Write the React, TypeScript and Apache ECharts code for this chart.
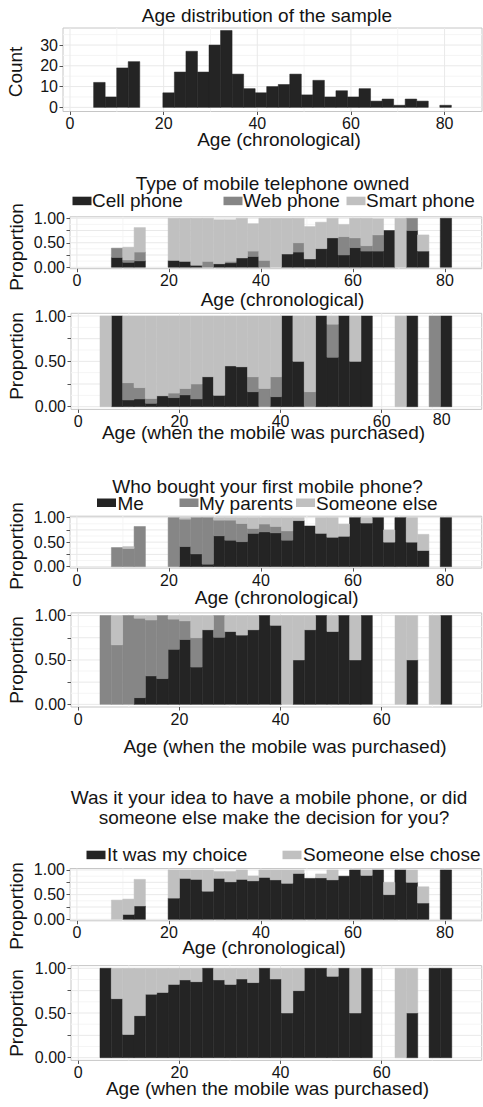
import React, { useEffect, useRef } from 'react';
import * as echarts from 'echarts';

const N: any = null;

// Bin left edges (age, years)
const chronoBinStart = [2.57, 5.04, 7.5, 9.97, 12.43, 14.9, 17.36, 19.83, 22.29, 24.76, 27.22, 29.69, 32.15, 34.62, 37.08, 39.55, 42.01, 44.48, 46.94, 49.41, 51.87, 54.34, 56.8, 59.27, 61.73, 64.2, 66.66, 69.13, 71.59, 74.06, 76.52, 78.99, 81.45];
const chronoBinWidth = 2.465;
const purchaseBinStart = [4.29, 6.53, 8.78, 11.02, 13.27, 15.51, 17.75, 20.0, 22.24, 24.49, 26.73, 28.97, 31.22, 33.46, 35.71, 37.95, 40.19, 42.44, 44.68, 46.93, 49.17, 51.41, 53.66, 55.9, 58.15, 60.39, 62.63, 64.88, 67.12, 69.37, 71.61];
const purchaseBinWidth = 2.244;

// Panel 1: age distribution
const ageCount = [0, 12, 5, 19, 22, 0, 0, 7, 17, 27, 17, 30, 37, 16, 9, 7, 10, 11, 16, 6, 13, 5, 8, 5, 9, 3, 4, 1, 4, 3, 0, 1, 0];

// Panel 2: type owned by chronological age
const typeChronoCell = [N, N, 0.2, 0.1, 0.13, N, N, 0.14, 0.12, 0.04, 0, 0.07, 0.09, 0.19, 0.22, 0, 0, 0.27, 0.31, 0.17, 0.38, 0.6, 0.25, 0.4, 0.33, 0.33, 0.75, 0, 0.75, 0.33, N, 1.0, N];
const typeChronoWeb = [N, N, 0.19, 0.05, 0.18, N, N, 0, 0, 0, 0.12, 0, 0.03, 0, 0.11, 0.14, 0, 0, 0.19, 0, 0, 0, 0.375, 0.2, 0.11, 0.33, 0, 0, 0.25, 0, N, 0, N];
const typeChronoSmart = [N, N, 0, 0.26, 0.5, N, N, 0.86, 0.88, 0.96, 0.88, 0.9, 0.85, 0.81, 0.56, 0.86, 1.0, 0.73, 0.5, 0.66, 0.54, 0.4, 0.25, 0.4, 0.56, 0.33, 0, 1.0, 0, 0.33, N, 0, N];

// Panel 3: type by age at purchase
const typePurchCell = [0, 1.0, 0.074, 0.085, 0.037, 0.12, 0.1, 0.13, 0.085, 0.33, 0.125, 0.45, 0.44, 0.165, 0, 0.11, 1.0, 0.5, 0, 1.0, 0.545, 1.0, 0.5, 1.0, N, N, 0, 1.0, N, 0, 1.0];
const typePurchWeb = [0, 0, 0.19, 0.125, 0.053, 0, 0.05, 0.07, 0.165, 0, 0, 0, 0, 0.165, 0.2, 0.22, 0, 0, 0.165, 0, 0.365, 0, 0, 0, N, N, 0, 0, N, 1.0, 0];
const typePurchSmart = [1.0, 0, 0.736, 0.79, 0.91, 0.88, 0.85, 0.8, 0.75, 0.67, 0.875, 0.55, 0.56, 0.67, 0.8, 0.67, 0, 0.5, 0.835, 0, 0.09, 0, 0.5, 0, N, N, 1.0, 0, N, 0, 0];

// Panel 4: who bought, chronological
const buyChronoMe = [N, N, 0, 0, 0, N, N, 0, 0.41, 0.26, 0.05, 0.63, 0.54, 0.51, 0.68, 0.71, 0.69, 0.54, 0.94, 0.83, 0.68, 0.6, 0.62, 1.0, 0.89, 1.0, 0.5, 1.0, 0.5, 0.33, N, 1.0, N];
const buyChronoParents = [N, N, 0.39, 0.37, 0.82, N, N, 1.0, 0.56, 0.74, 0.95, 0.32, 0.41, 0.37, 0.1, 0.16, 0.13, 0.19, 0, 0, 0, 0, 0, 0, 0, 0, 0, 0, 0, 0, N, 0, N];
const buyChronoElse = [N, N, 0, 0.04, 0, N, N, 0, 0.03, 0, 0, 0.05, 0.05, 0.12, 0.22, 0.13, 0.18, 0.27, 0.06, 0, 0.32, 0.4, 0.25, 0, 0.11, 0, 0.25, 0, 0.5, 0.33, N, 0, N];

// Panel 5: who bought, age at purchase
const buyPurchMe = [0, 0, 0, 0.075, 0.32, 0.29, 0.62, 0.73, 0.42, 0.84, 0.755, 0.82, 0.78, 0.84, 1.0, 0.89, 0, 0.5, 0.84, 1.0, 0.82, 1.0, 0.5, 1.0, N, N, 0, 0.5, N, 0, 1.0];
const buyPurchParents = [1.0, 0.67, 1.0, 0.895, 0.63, 0.71, 0.34, 0.21, 0.33, 0, 0.245, 0, 0, 0, 0, 0, 0, 0, 0, 0, 0, 0, 0, 0, N, N, 0, 0, N, 0, 0];
const buyPurchElse = [0, 0.33, 0, 0.03, 0.05, 0, 0.04, 0.06, 0.25, 0.16, 0, 0.18, 0.22, 0.16, 0, 0.11, 1.0, 0.5, 0.16, 0, 0.18, 0, 0.5, 0, N, N, 1.0, 0.5, N, 1.0, 0];

// Panel 6: whose idea, chronological
const ideaChronoChoice = [N, N, 0, 0.1, 0.27, N, N, 0.43, 0.83, 0.81, 0.57, 0.83, 0.76, 0.81, 0.78, 0.85, 0.8, 0.73, 0.93, 0.83, 0.84, 0.8, 0.875, 1.0, 0.89, 1.0, 0.5, 1.0, 0.75, 0.33, N, 1.0, N];
const ideaChronoElse = [N, N, 0.39, 0.31, 0.54, N, N, 0.57, 0.17, 0.19, 0.43, 0.14, 0.21, 0.19, 0.1, 0.15, 0.2, 0.27, 0.07, 0, 0.08, 0.2, 0, 0, 0.11, 0, 0.25, 0, 0.25, 0.33, N, 0, N];

// Panel 7: whose idea, age at purchase
const ideaPurchChoice = [1.0, 0.66, 0.26, 0.47, 0.71, 0.73, 0.82, 0.87, 0.85, 1.0, 0.87, 0.82, 0.88, 0.84, 1.0, 0.88, 0.5, 0.75, 1.0, 1.0, 0.91, 1.0, 0.5, 1.0, N, N, 0, 0.5, N, 1.0, 1.0];
const ideaPurchElse = [0, 0.34, 0.74, 0.53, 0.29, 0.27, 0.18, 0.13, 0.15, 0, 0.13, 0.18, 0.12, 0.16, 0, 0.12, 0.5, 0.25, 0, 0, 0.09, 0, 0.5, 0, N, N, 1.0, 0.5, N, 0, 0];

// Ticks / gridlines
const chronoTicks = [0, 20, 40, 60, 80];
const chronoMinor = [10, 30, 50, 70];
const purchaseTicks = [0, 20, 40, 60];
const purchaseMinor = [10, 30, 50, 70];
const countTicks = [0, 10, 20, 30];
const countMinor = [5, 15, 25, 35];
const propTicks = [0, 0.25, 0.5, 0.75, 1];
const propLabels = [0, 0.5, 1];
const propMinor = [0.125, 0.375, 0.625, 0.875];

const FONT = "'Liberation Sans', Arial, Helvetica, sans-serif";
const DARK = '#242424';
const MID = '#868686';
const LIGHT = '#c0c0c0';
const TXT = '#141414';

type PanelDef = {
  left: number; top: number; width: number; height: number;
  x: 'chrono' | 'purchase'; y: 'count' | 'prop';
  layers: { values: (number | null)[]; color: string; name: string }[];
};

const panels: PanelDef[] = [
  { left: 63, top: 28, width: 419, height: 83.5, x: 'chrono', y: 'count',
    layers: [{ values: ageCount, color: DARK, name: 'Count' }] },
  { left: 70, top: 216.8, width: 411.7, height: 51.9, x: 'chrono', y: 'prop',
    layers: [
      { values: typeChronoCell, color: DARK, name: 'Cell phone' },
      { values: typeChronoWeb, color: MID, name: 'Web phone' },
      { values: typeChronoSmart, color: LIGHT, name: 'Smart phone' },
    ] },
  { left: 71, top: 313.3, width: 410.7, height: 96.1, x: 'purchase', y: 'prop',
    layers: [
      { values: typePurchCell, color: DARK, name: 'Cell phone' },
      { values: typePurchWeb, color: MID, name: 'Web phone' },
      { values: typePurchSmart, color: LIGHT, name: 'Smart phone' },
    ] },
  { left: 70, top: 516.2, width: 411.7, height: 51.9, x: 'chrono', y: 'prop',
    layers: [
      { values: buyChronoMe, color: DARK, name: 'Me' },
      { values: buyChronoParents, color: MID, name: 'My parents' },
      { values: buyChronoElse, color: LIGHT, name: 'Someone else' },
    ] },
  { left: 71, top: 612.9, width: 410.7, height: 94.1, x: 'purchase', y: 'prop',
    layers: [
      { values: buyPurchMe, color: DARK, name: 'Me' },
      { values: buyPurchParents, color: MID, name: 'My parents' },
      { values: buyPurchElse, color: LIGHT, name: 'Someone else' },
    ] },
  { left: 70, top: 868.5, width: 411.7, height: 52.3, x: 'chrono', y: 'prop',
    layers: [
      { values: ideaChronoChoice, color: DARK, name: 'It was my choice' },
      { values: ideaChronoElse, color: LIGHT, name: 'Someone else chose' },
    ] },
  { left: 71, top: 965.6, width: 410.7, height: 94.8, x: 'purchase', y: 'prop',
    layers: [
      { values: ideaPurchChoice, color: DARK, name: 'It was my choice' },
      { values: ideaPurchElse, color: LIGHT, name: 'Someone else chose' },
    ] },
];

function barRenderer(color: string) {
  return (_params: any, api: any) => {
    const a = api.coord([api.value(0), api.value(3)]);
    const b = api.coord([api.value(1), api.value(2)]);
    return {
      type: 'rect',
      shape: { x: a[0], y: a[1], width: b[0] - a[0], height: b[1] - a[1] },
      style: { fill: color, stroke: color, lineWidth: 0.5 },
    };
  };
}

function gridRenderer(params: any, api: any) {
  const cs = params.coordSys;
  const dir = api.value(0);
  const v = api.value(1);
  const minor = api.value(2);
  const stroke = minor ? '#f5f5f5' : '#e9e9e9';
  if (dir === 0) {
    const x = api.coord([v, 0])[0];
    return { type: 'line', shape: { x1: x, y1: cs.y, x2: x, y2: cs.y + cs.height }, style: { stroke, lineWidth: 1 } };
  }
  const y = api.coord([0, v])[1];
  return { type: 'line', shape: { x1: cs.x, y1: y, x2: cs.x + cs.width, y2: y }, style: { stroke, lineWidth: 1 } };
}

function buildOption() {
  const grid: any[] = [];
  const xAxis: any[] = [];
  const yAxis: any[] = [];
  const series: any[] = [];

  panels.forEach((p, i) => {
    const chrono = p.x === 'chrono';
    const starts = chrono ? chronoBinStart : purchaseBinStart;
    const width = chrono ? chronoBinWidth : purchaseBinWidth;
    const xTicks = chrono ? chronoTicks : purchaseTicks;
    const xMinor = chrono ? chronoMinor : purchaseMinor;
    const isCount = p.y === 'count';
    const yTicks = isCount ? countTicks : propTicks;
    const yLabels = isCount ? countTicks : propLabels;
    const yMinor = isCount ? countMinor : propMinor;

    grid.push({
      left: p.left, top: p.top, width: p.width, height: p.height,
      show: true, borderColor: '#c6c6c6', borderWidth: 1, backgroundColor: '#ffffff',
      containLabel: false, outerBoundsMode: 'none',
    });
    xAxis.push({
      type: 'value', gridIndex: i,
      min: chrono ? -1.5 : -1.44, max: chrono ? 88 : 79.77,
      splitLine: { show: false },
      axisLine: { show: false, onZero: false },
      axisTick: { show: true, length: 3.5, customValues: xTicks, lineStyle: { color: '#555555', width: 1 } },
      axisLabel: {
        customValues: xTicks, margin: 4, fontSize: 16, color: TXT, fontFamily: FONT,
        formatter: (v: number) => String(v),
      },
    });
    yAxis.push({
      type: 'value', gridIndex: i,
      min: isCount ? -2 : -0.03, max: isCount ? 38.2 : 1.03,
      splitLine: { show: false },
      axisLine: { show: false, onZero: false },
      axisTick: { show: true, length: 3.5, customValues: yTicks, lineStyle: { color: '#555555', width: 1 } },
      axisLabel: {
        customValues: yLabels, margin: 5, fontSize: 16, color: TXT, fontFamily: FONT,
        formatter: (v: number) => (isCount ? String(v) : v.toFixed(2)),
      },
    });

    const gl: number[][] = [];
    xMinor.forEach((v) => gl.push([0, v, 1]));
    yMinor.forEach((v) => gl.push([1, v, 1]));
    xTicks.forEach((v) => gl.push([0, v, 0]));
    yTicks.forEach((v) => gl.push([1, v, 0]));
    series.push({
      type: 'custom', name: 'grid' + i, xAxisIndex: i, yAxisIndex: i, silent: true, z: 1,
      renderItem: gridRenderer, data: gl, encode: { x: 1, y: 1 },
    });

    const base = starts.map(() => 0);
    p.layers.forEach((layer) => {
      const items: number[][] = [];
      layer.values.forEach((v, k) => {
        if (v === null || v === undefined) return;
        if (v > 0) items.push([starts[k], starts[k] + width, base[k], base[k] + v]);
        base[k] += v;
      });
      series.push({
        type: 'custom', name: layer.name, xAxisIndex: i, yAxisIndex: i, z: 2,
        renderItem: barRenderer(layer.color), data: items, encode: { x: [0, 1], y: [2, 3] },
      });
    });
  });

  const t = (text: string, x: number, y: number, extra: any = {}) => ({
    type: 'text', x, y, z: 10, ...extra,
    style: { text, fontSize: 19, fontFamily: FONT, fill: TXT, align: 'center', verticalAlign: 'middle', ...(extra.style || {}) },
  });
  const tl = (text: string, x: number, y: number) => ({
    type: 'text', x, y, z: 10,
    style: { text, fontSize: 19, fontFamily: FONT, fill: TXT, align: 'left', verticalAlign: 'middle' },
  });
  const rot = Math.PI / 2;
  const key = (x: number, y: number, color: string) => ({
    type: 'rect', z: 10, shape: { x, y, width: 19, height: 8.5 }, style: { fill: color },
  });

  const graphic: any[] = [
    t('Age distribution of the sample', 267, 15),
    t('Count', 15, 72, { rotation: rot }),
    t('Age (chronological)', 279, 139),

    t('Type of mobile telephone owned', 272.5, 183),
    key(72.5, 196.7, DARK), tl('Cell phone', 92, 200),
    key(223.5, 196.7, MID), tl('Web phone', 243, 200),
    key(346.5, 196.7, LIGHT), tl('Smart phone', 366, 200),
    t('Proportion', 16, 247, { rotation: rot }),
    t('Age (chronological)', 282.5, 299),

    t('Proportion', 16, 356, { rotation: rot }),
    t('Age (when the mobile was purchased)', 263.5, 432),
    { type: 'text', x: 441.7, y: 411, z: 10, style: { text: '80', fontSize: 16, fontFamily: FONT, fill: TXT, align: 'center', verticalAlign: 'top' } },

    t('Who bought your first mobile phone?', 267.5, 486),
    key(97, 498.5, DARK), tl('Me', 117.5, 503),
    key(179.5, 498.5, MID), tl('My parents', 199, 503),
    key(296, 498.5, LIGHT), tl('Someone else', 316, 503),
    t('Proportion', 16, 546, { rotation: rot }),
    t('Age (chronological)', 276.7, 597),

    t('Proportion', 16, 660, { rotation: rot }),
    t('Age (when the mobile was purchased)', 285, 746.5),

    t('Was it your idea to have a mobile phone, or did', 269, 797.5),
    t('someone else make the decision for you?', 274, 817.5),
    key(86.5, 850.7, DARK), tl('It was my choice', 107, 854),
    key(282.5, 850.7, LIGHT), tl('Someone else chose', 303, 854),
    t('Proportion', 16, 906, { rotation: rot }),
    t('Age (chronological)', 264, 947),

    t('Proportion', 16, 1013, { rotation: rot }),
    t('Age (when the mobile was purchased)', 267.5, 1088),
  ];

  return {
    animation: false,
    backgroundColor: '#ffffff',
    textStyle: { fontFamily: FONT },
    grid, xAxis, yAxis, series, graphic,
  };
}

export default function App() {
  const ref = useRef<HTMLDivElement>(null);
  useEffect(() => {
    if (!ref.current) return;
    const chart = echarts.init(ref.current, undefined, { renderer: 'svg' });
    chart.setOption(buildOption() as any);
    return () => chart.dispose();
  }, []);
  return (
    <div
      ref={ref}
      style={{ position: 'absolute', left: 0, top: 0, width: 483, height: 1107, background: '#fff' }}
    />
  );
}
